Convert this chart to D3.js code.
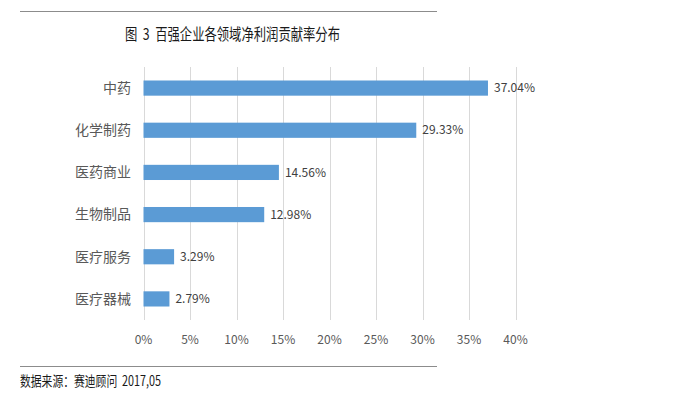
<!DOCTYPE html>
<html>
<head>
<meta charset="utf-8">
<script src="https://d3js.org/d3.v7.min.js"></script>
<style>
  body { margin: 0; background: #fff; }
  text { font-family: "Noto Sans CJK SC", "Microsoft YaHei", sans-serif; }
</style>
</head>
<body>
<script>
var categories = ["中药", "化学制药", "医药商业", "生物制品", "医疗服务", "医疗器械"];
var values = [37.04, 29.33, 14.56, 12.98, 3.29, 2.79];
var tickValues = [0, 5, 10, 15, 20, 25, 30, 35, 40];

var svg = d3.select("body").append("svg")
  .attr("width", 678)
  .attr("height", 401);

// frame lines
svg.append("line").attr("x1", 20).attr("x2", 437).attr("y1", 11.5).attr("y2", 11.5)
  .attr("stroke", "#8c8c8c").attr("stroke-width", 1);
svg.append("line").attr("x1", 20).attr("x2", 437).attr("y1", 366.5).attr("y2", 366.5)
  .attr("stroke", "#8c8c8c").attr("stroke-width", 1);

svg.append("text")
  .attr("x", 125).attr("y", 40)
  .attr("font-size", 16)
  .attr("textLength", 215)
  .attr("lengthAdjust", "spacingAndGlyphs")
  .attr("fill", "#1a1a1a")
  .text("图\u00a0\u00a03\u00a0\u00a0百强企业各领域净利润贡献率分布");

var x = d3.scaleLinear().domain([0, 40]).range([143.5, 515.5]);
var y = d3.scaleBand().domain(categories).range([67, 320]).paddingInner(0.64).paddingOuter(0.32);

// gridlines
svg.append("g").selectAll("line")
  .data(tickValues)
  .enter().append("line")
  .attr("x1", function(d) { return Math.round(x(d)) + 0.5; })
  .attr("x2", function(d) { return Math.round(x(d)) + 0.5; })
  .attr("y1", 67).attr("y2", 320)
  .attr("stroke", "#d9d9d9");

// bars
svg.append("g").selectAll("rect")
  .data(values)
  .enter().append("rect")
  .attr("x", x(0))
  .attr("y", function(d, i) { return y(categories[i]); })
  .attr("width", function(d) { return x(d) - x(0); })
  .attr("height", y.bandwidth())
  .attr("fill", "#5b9bd5");

// value labels
svg.append("g").selectAll("text")
  .data(values)
  .enter().append("text")
  .attr("x", function(d) { return x(d) + 6; })
  .attr("y", function(d, i) { return y(categories[i]) + y.bandwidth() / 2; })
  .attr("dy", "0.35em")
  .attr("font-size", 12)
  .attr("fill", "#404040")
  .text(function(d) { return d.toFixed(2) + "%"; });

// category axis labels
svg.append("g").selectAll("text")
  .data(categories)
  .enter().append("text")
  .attr("x", 131)
  .attr("y", function(d) { return y(d) + y.bandwidth() / 2; })
  .attr("dy", "0.35em")
  .attr("text-anchor", "end")
  .attr("font-size", 14)
  .attr("fill", "#595959")
  .text(function(d) { return d; });

// x axis tick labels
svg.append("g").selectAll("text")
  .data(tickValues)
  .enter().append("text")
  .attr("x", function(d) { return x(d); })
  .attr("y", 340)
  .attr("dy", "0.35em")
  .attr("text-anchor", "middle")
  .attr("font-size", 12)
  .attr("fill", "#595959")
  .text(function(d) { return d + "%"; });

svg.append("text")
  .attr("x", 20).attr("y", 386)
  .attr("font-size", 14)
  .attr("textLength", 141)
  .attr("lengthAdjust", "spacingAndGlyphs")
  .attr("fill", "#1a1a1a")
  .text("数据来源：赛迪顾问\u00a0\u00a02017,05");
</script>
</body>
</html>
